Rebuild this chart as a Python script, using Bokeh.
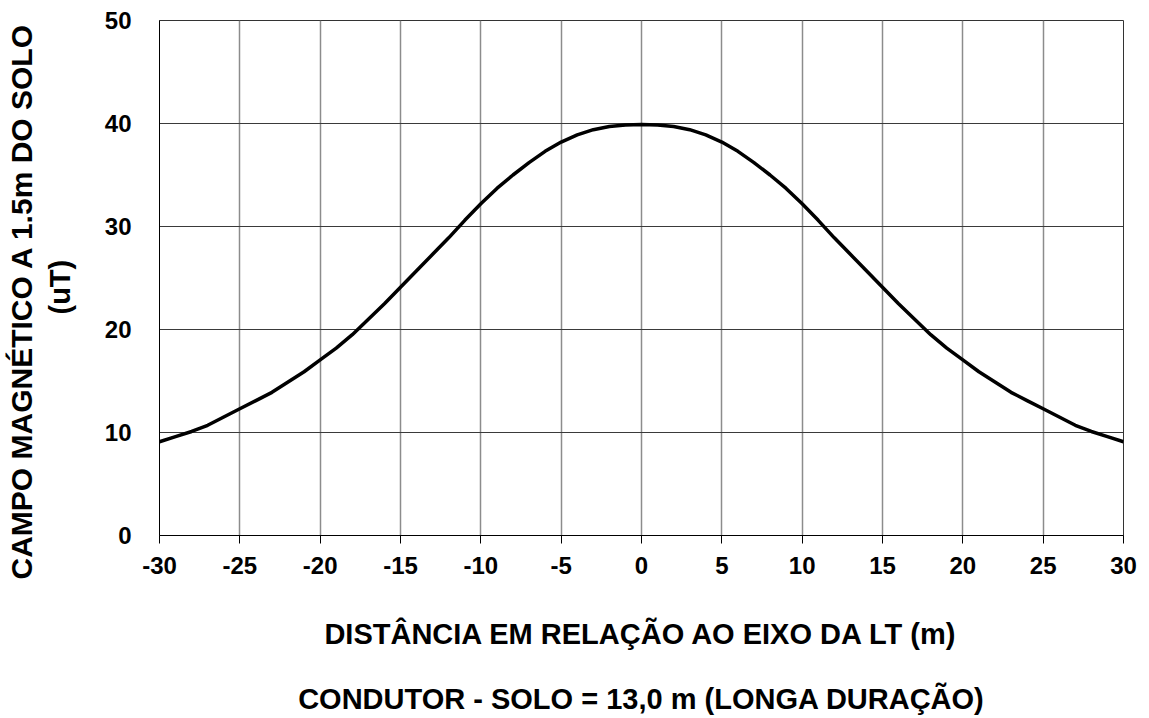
from bokeh.plotting import figure
from bokeh.models import Range1d, FixedTicker, Title
from bokeh.embed import file_html
from bokeh.resources import INLINE

# Data (magnetic field profile, 1 m steps)
distance_m = [-30, -29, -28, -27, -26, -25, -24, -23, -22, -21, -20,
              -19, -18, -17, -16, -15, -14, -13, -12, -11, -10,
              -9, -8, -7, -6, -5, -4, -3, -2, -1, 0,
              1, 2, 3, 4, 5, 6, 7, 8, 9, 10,
              11, 12, 13, 14, 15, 16, 17, 18, 19, 20,
              21, 22, 23, 24, 25, 26, 27, 28, 29, 30]
field_uT = [9.1, 9.6, 10.1, 10.7, 11.5, 12.3, 13.1, 13.9, 14.9, 15.9, 17.05,
            18.2, 19.5, 21.0, 22.5, 24.1, 25.7, 27.3, 28.9, 30.6, 32.2,
            33.7, 35.0, 36.2, 37.3, 38.2, 38.9, 39.4, 39.7, 39.85, 39.9,
            39.85, 39.7, 39.4, 38.9, 38.2, 37.3, 36.2, 35.0, 33.7, 32.2,
            30.6, 28.9, 27.3, 25.7, 24.1, 22.5, 21.0, 19.5, 18.2, 17.05,
            15.9, 14.9, 13.9, 13.1, 12.3, 11.5, 10.7, 10.1, 9.6, 9.1]
x_ticks = [-30, -25, -20, -15, -10, -5, 0, 5, 10, 15, 20, 25, 30]
y_ticks = [0, 10, 20, 30, 40, 50]

x_label = "DISTÂNCIA EM RELAÇÃO AO EIXO DA LT (m)"
subtitle = "CONDUTOR - SOLO = 13,0 m (LONGA DURAÇÃO)"
y_label_line1 = "CAMPO MAGNÉTICO A 1.5m DO SOLO"
y_label_line2 = "(uT)"

FONT = "Liberation Sans"
TITLE_SIZE = "29px"
TICK_SIZE = "24px"

p = figure(width=1149, height=718,
           x_range=Range1d(-30, 30), y_range=Range1d(0, 50),
           output_backend="svg", toolbar_location=None,
           min_border_left=159, min_border_right=26,
           min_border_top=20, min_border_bottom=182)

p.line(distance_m, field_uT, line_color="black", line_width=3.5)

p.outline_line_color = "#333333"
p.outline_line_width = 1

# x axis (axis title and the condition note as one centred block)
xa = p.xaxis[0]
xa.ticker = FixedTicker(ticks=x_ticks)
xa.major_label_overrides = {t: str(t) for t in x_ticks}
xa.axis_label = x_label + "\n\n" + subtitle
xa.axis_label_text_font = FONT
xa.axis_label_text_font_style = "bold"
xa.axis_label_text_font_size = TITLE_SIZE
xa.axis_label_text_line_height = 1.03
xa.axis_label_text_color = "black"
xa.axis_label_standoff = 41
xa.major_label_text_font = FONT
xa.major_label_text_font_style = "bold"
xa.major_label_text_font_size = TICK_SIZE
xa.major_label_text_color = "black"
xa.major_label_standoff = 13
xa.major_tick_out = 8
xa.major_tick_in = 0
xa.minor_tick_out = 0
xa.minor_tick_in = 0
xa.axis_line_color = "black"
xa.major_tick_line_color = "black"

# y axis
ya = p.yaxis[0]
ya.ticker = FixedTicker(ticks=y_ticks)
ya.major_label_text_font = FONT
ya.major_label_text_font_style = "bold"
ya.major_label_text_font_size = TICK_SIZE
ya.major_label_text_color = "black"
ya.major_label_standoff = 28
ya.major_tick_out = 0
ya.major_tick_in = 0
ya.minor_tick_out = 0
ya.minor_tick_in = 0
ya.axis_line_color = "black"

# grid
p.xgrid.ticker = FixedTicker(ticks=x_ticks)
p.ygrid.ticker = FixedTicker(ticks=y_ticks)
p.xgrid.grid_line_color = "#8c8c8c"
p.xgrid.grid_line_width = 1.5
p.ygrid.grid_line_color = "#3a3a3a"
p.ygrid.grid_line_width = 1

# y-axis title as two left titles (second line nearest the axis)
t_unit = Title(text=y_label_line2, align="left", text_font=FONT, text_font_style="bold",
               text_font_size=TITLE_SIZE, text_color="black", standoff=51, offset=221)
p.add_layout(t_unit, "left")
t_main = Title(text=y_label_line1, align="left", text_font=FONT, text_font_style="bold",
               text_font_size="30px", text_color="black", standoff=-43, offset=-44)
p.add_layout(t_main, "left")

open("out.html", "w").write(file_html(p, INLINE))
